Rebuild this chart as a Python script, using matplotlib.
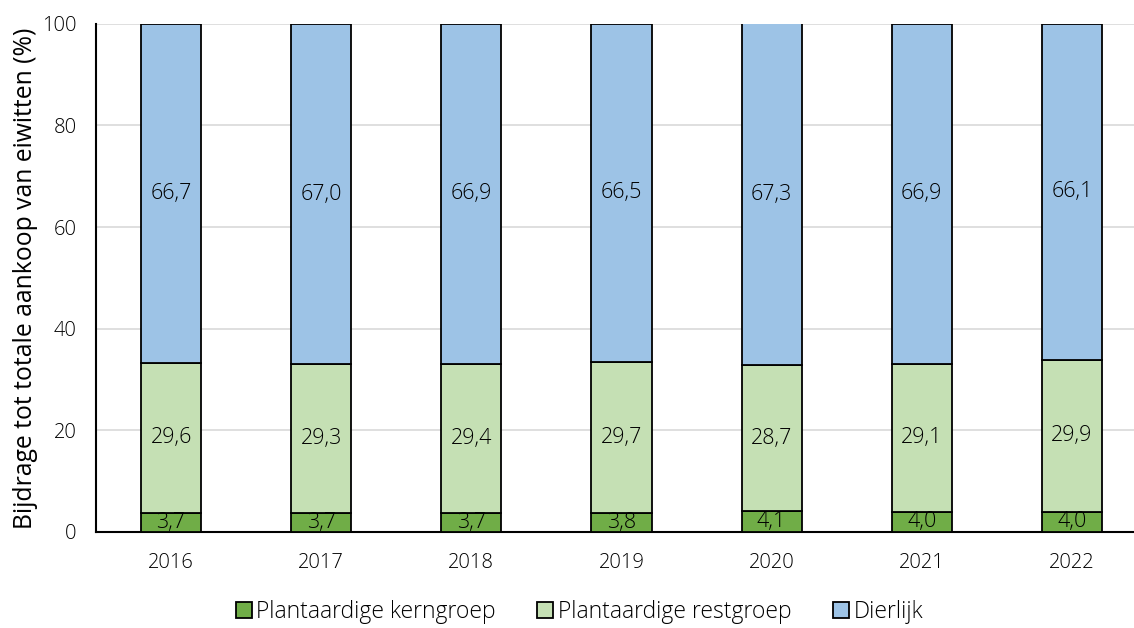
import matplotlib.pyplot as plt
import numpy as np

years = ['2016', '2017', '2018', '2019', '2020', '2021', '2022']
kerngroep = [3.7, 3.7, 3.7, 3.8, 4.1, 4.0, 4.0]
restgroep = [29.6, 29.3, 29.4, 29.7, 28.7, 29.1, 29.9]
dierlijk = [66.7, 67.0, 66.9, 66.5, 67.3, 66.9, 66.1]

series = [
    ('Plantaardige kerngroep', kerngroep, '#70ad47'),
    ('Plantaardige restgroep', restgroep, '#c5e0b4'),
    ('Dierlijk', dierlijk, '#9dc3e6'),
]

plt.rcParams['font.family'] = ['Open Sans', 'DejaVu Sans']
plt.rcParams['font.weight'] = 'light'

fig = plt.figure(figsize=(11.34, 6.28), dpi=100)
# axes run slightly past the right edge, like the original
ax = fig.add_axes([96 / 1134, 0.153, 1051 / 1134, 0.809])

x = np.arange(len(years))
bottom = np.zeros(len(years))
for name, vals, color in series:
    vals = np.array(vals)
    ax.bar(x, vals, 0.4, bottom=bottom, color=color, edgecolor='black',
           linewidth=1.3, label=name, zorder=3)
    for xi, b, v in zip(x, bottom, vals):
        ax.text(xi, b + v / 2, f'{v:.1f}'.replace('.', ','), ha='center', va='center',
                fontsize=15.5, color='black', zorder=4)
    bottom += vals

ax.set_xlim(-0.5, len(years) - 0.5)
ax.set_ylim(0, 100)
ax.set_yticks([0, 20, 40, 60, 80, 100])
ax.set_xticks(x)
ax.set_xticklabels(years)
ax.tick_params(axis='both', length=0, labelsize=14.5, colors='black')
ax.tick_params(axis='x', pad=15)
ax.tick_params(axis='y', pad=14)
ax.grid(axis='y', color='#d9d9d9', linewidth=1.2, zorder=0)
for s in ['top', 'right']:
    ax.spines[s].set_visible(False)
ax.spines['left'].set_linewidth(1.5)
ax.spines['bottom'].set_linewidth(1.5)
ax.set_ylabel('Bijdrage tot totale aankoop van eiwitten (%)', fontsize=17.8,
              color='black', labelpad=3)

ax.legend(loc='center', bbox_to_anchor=(0.46, -0.157), ncol=3, frameon=False,
          fontsize=16.5, handlelength=0.7, handleheight=0.7, handletextpad=0.2,
          columnspacing=1.8)

fig.savefig('out.png', dpi=100)
